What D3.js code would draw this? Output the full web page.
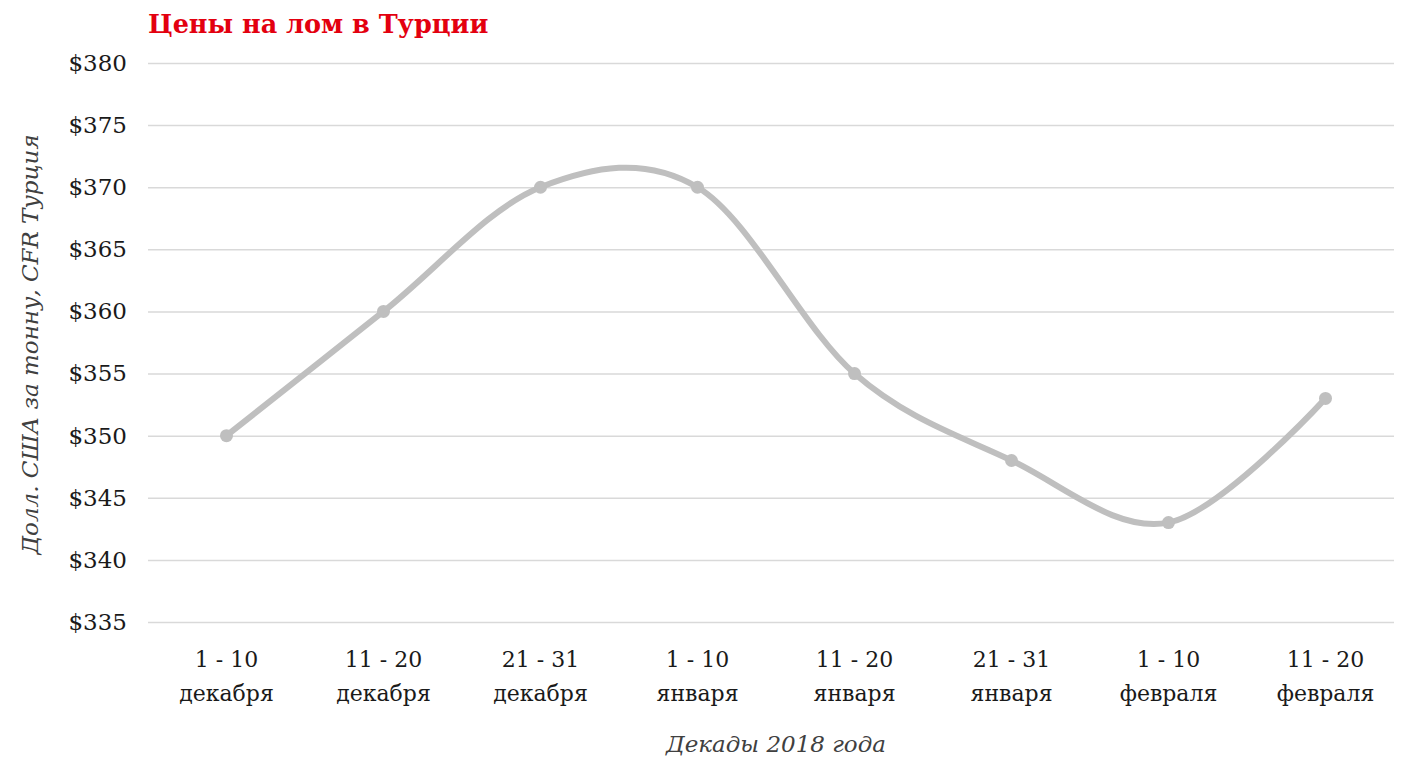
<!DOCTYPE html>
<html>
<head>
<meta charset="utf-8">
<script src="https://cdn.jsdelivr.net/npm/d3@7"></script>
<style>
  body { margin: 0; background: #fff; }
  svg { display: block; font-family: "DejaVu Serif", Georgia, serif; }
</style>
</head>
<body>
<div id="chart"></div>
<script>
// Chart data
const periods = ['1 - 10', '11 - 20', '21 - 31', '1 - 10', '11 - 20', '21 - 31', '1 - 10', '11 - 20'];
const months = ['декабря', 'декабря', 'декабря', 'января', 'января', 'января', 'февраля', 'февраля'];
const prices = [350, 360, 370, 370, 355, 348, 343, 353];
const yTicks = [335, 340, 345, 350, 355, 360, 365, 370, 375, 380];

const title = 'Цены на лом в Турции';
const yTitle = 'Долл. США за тонну, CFR Турция';
const xTitle = 'Декады 2018 года';

// Dimensions
const width = 1406;
const height = 758;
const margin = { top: 63, right: 2, bottom: 136, left: 148 };
const fontFamily = '"DejaVu Serif", Georgia, serif';

const svg = d3.select('#chart')
  .append('svg')
    .attr('width', width)
    .attr('height', height);

const data = prices.map((v, i) => ({ key: `${i}`, value: v }));

// Scales
const xScale = d3.scaleBand()
  .domain(data.map(d => d.key))
  .range([margin.left, width - margin.right])
  .padding(0);

const yScale = d3.scaleLinear()
  .domain([335, 380])
  .range([height - margin.bottom, margin.top]);

// Gridlines + y labels
const yAxis = svg.append('g')
  .attr('transform', `translate(${margin.left}, 0)`)
  .call(d3.axisLeft(yScale)
    .tickValues(yTicks)
    .tickSize(-(width - margin.left - 12))
    .tickPadding(21)
    .tickFormat(d => `$${d}`))
  .call(g => g.select('.domain').remove())
  .attr('font-family', fontFamily);

yAxis.selectAll('line')
  .attr('stroke', '#d9d9d9')
  .attr('stroke-width', 1.5);

yAxis.selectAll('text')
  .attr('fill', '#1a1a1a')
  .style('font-size', '23px');

// X labels (two lines)
const xAxis = svg.append('g')
  .attr('transform', `translate(0, ${height - margin.bottom})`)
  .call(d3.axisBottom(xScale).tickSize(0).tickFormat(''))
  .call(g => g.select('.domain').remove())
  .attr('font-family', fontFamily);

xAxis.selectAll('.tick').each(function (d, i) {
  const t = d3.select(this).append('text')
    .attr('fill', '#1a1a1a')
    .attr('text-anchor', 'middle')
    .style('font-size', '22px');
  t.append('tspan').attr('x', 0).attr('y', 45).text(periods[i]);
  t.append('tspan').attr('x', 0).attr('y', 79).text(months[i]);
});

// Line
const line = d3.line()
  .x(d => xScale(d.key) + xScale.bandwidth() / 2)
  .y(d => yScale(d.value))
  .curve(d3.curveCardinal.tension(0));

svg.append('path')
  .datum(data)
  .attr('fill', 'none')
  .attr('stroke', '#bfbfbf')
  .attr('stroke-width', 6)
  .attr('stroke-linecap', 'round')
  .attr('d', line);

svg.selectAll('circle.pt')
  .data(data)
  .join('circle')
    .attr('class', 'pt')
    .attr('cx', d => xScale(d.key) + xScale.bandwidth() / 2)
    .attr('cy', d => yScale(d.value))
    .attr('r', 6.5)
    .attr('fill', '#bfbfbf');

// Titles
svg.append('text')
  .attr('x', 148)
  .attr('y', 33)
  .attr('fill', '#e3000f')
  .style('font-size', '25.5px')
  .style('font-weight', 'bold')
  .text(title);

svg.append('text')
  .attr('transform', `translate(38, ${(margin.top + height - margin.bottom) / 2 + 2}) rotate(-90)`)
  .attr('text-anchor', 'middle')
  .attr('fill', '#404040')
  .style('font-size', '23px')
  .style('font-style', 'italic')
  .text(yTitle);

svg.append('text')
  .attr('x', (margin.left + width - margin.right) / 2)
  .attr('y', 752)
  .attr('text-anchor', 'middle')
  .attr('fill', '#404040')
  .style('font-size', '23px')
  .style('font-style', 'italic')
  .text(xTitle);
</script>
</body>
</html>
